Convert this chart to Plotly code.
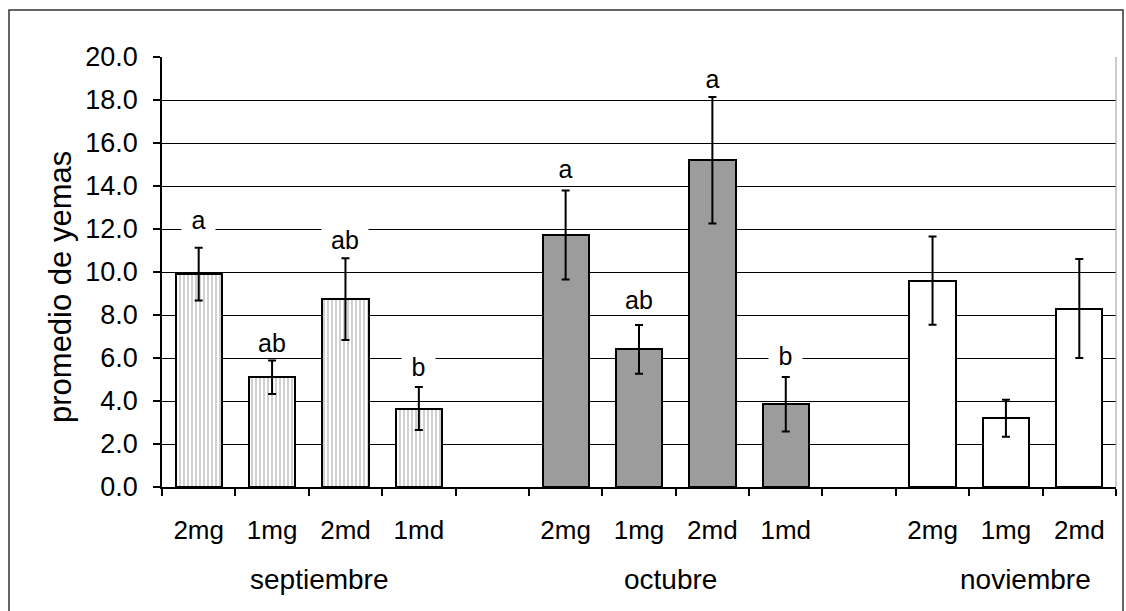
import plotly.graph_objects as go

# Treatment groups per month
months = ["septiembre", "octubre", "noviembre"]
treatments = [
    ["2mg", "1mg", "2md", "1md"],
    ["2mg", "1mg", "2md", "1md"],
    ["2mg", "1mg", "2md"],
]
# Mean number of buds and standard error
sept_mean = [9.9, 5.1, 8.74, 3.65]
sept_err = [1.23, 0.78, 1.9, 1.0]
oct_mean = [11.72, 6.4, 15.2, 3.85]
oct_err = [2.07, 1.13, 2.94, 1.27]
nov_mean = [9.6, 3.2, 8.3]
nov_err = [2.05, 0.86, 2.3]
# Significance letters (Sept and Oct only)
sept_letters = ["a", "ab", "ab", "b"]
oct_letters = ["a", "ab", "a", "b"]

y_ticks = [0, 2, 4, 6, 8, 10, 12, 14, 16, 18, 20]
y_title = "promedio de yemas"

FONT = "Liberation Sans, Arial, sans-serif"
W, H = 1126, 611
ML, MR, MT, MB = 162, 10, 57, 124

# slot positions: one empty slot between months
slot_start = [0, 5, 10]
means = [sept_mean, oct_mean, nov_mean]
errs = [sept_err, oct_err, nov_err]

fig = go.Figure()

styles = [
    dict(color="white", pattern=dict(shape="|", fgcolor="#8a8a8a", bgcolor="white",
                                      size=4, solidity=0.4)),
    dict(color="#9c9c9c"),
    dict(color="white"),
]

centers, labels = [], []
for m in range(3):
    xs = [slot_start[m] + i for i in range(len(means[m]))]
    centers += xs
    labels += treatments[m]
    fig.add_trace(go.Bar(
        x=xs, y=means[m], width=0.63,
        marker=dict(**styles[m], line=dict(color="black", width=2)),
        error_y=dict(type="data", array=errs[m], visible=True,
                     color="black", thickness=2, width=4),
        showlegend=False, name=months[m],
    ))

# letter labels above bars (heights in data units)
sept_label_y = [12.4, 6.7, 11.5, 5.6]
oct_label_y = [14.8, 8.7, 19.0, 6.1]
for m, (letters, ly) in enumerate([(sept_letters, sept_label_y), (oct_letters, oct_label_y)]):
    for i, (t, yv) in enumerate(zip(letters, ly)):
        fig.add_annotation(
            x=slot_start[m] + i, y=yv, text=t, showarrow=False,
            font=dict(family=FONT, size=25, color="black"),
            bgcolor="white", width=13 * len(t) + 20, borderpad=0,
        )

# month group labels
month_x = [1.65, 6.43, 11.26]
for name, xv in zip(months, month_x):
    fig.add_annotation(
        x=xv, xref="x", y=-0.215, yref="paper", text=name, showarrow=False,
        font=dict(family=FONT, size=28, color="black"), yanchor="middle",
    )

pw, ph = W - ML - MR, H - MT - MB

# y-axis title
fig.add_annotation(
    x=(60 - ML) / pw, xref="paper", y=(H - MB - 287) / ph, yref="paper",
    text=y_title, textangle=-90, showarrow=False,
    font=dict(family=FONT, size=31, color="black"),
    xanchor="center", yanchor="middle",
)

# outer frame of the chart
fig.add_shape(type="rect", xref="paper", yref="paper",
              x0=(9 - ML) / pw, x1=(1123 - ML) / pw,
              y0=(H - MB - 620) / ph, y1=(H - MB - 10) / ph,
              line=dict(color="#333333", width=1.5), layer="below")
# right edge of plot area
fig.add_shape(type="line", xref="paper", yref="paper", x0=1, x1=1, y0=0, y1=1,
              line=dict(color="#999999", width=1))

fig.update_layout(
    width=W, height=H,
    margin=dict(l=ML, r=MR, t=MT, b=MB),
    paper_bgcolor="white", plot_bgcolor="white",
    bargap=0, barmode="overlay",
    font=dict(family=FONT, size=27, color="black"),
    xaxis=dict(
        range=[-0.5, 12.5], tickmode="array", tickvals=centers, ticktext=labels,
        ticks="", showgrid=False, showline=True, linecolor="black", linewidth=1.5,
        tickfont=dict(family=FONT, size=26, color="black"), ticklabelstandoff=19,
        minor=dict(ticks="outside", tickmode="linear", tick0=-0.5, dtick=1,
                   ticklen=7, tickcolor="black", tickwidth=1.5, showgrid=False),
    ),
    yaxis=dict(
        range=[0, 20], tickmode="array", tickvals=y_ticks, tickformat=".1f",
        ticks="outside", ticklen=7, tickcolor="black", tickwidth=1.5,
        showgrid=True, gridcolor="black", gridwidth=1,
        showline=True, linecolor="black", linewidth=1.5, zeroline=False,
        tickfont=dict(family=FONT, size=27, color="black"), ticklabelstandoff=10,
    ),
)

fig.write_html("out.html")
